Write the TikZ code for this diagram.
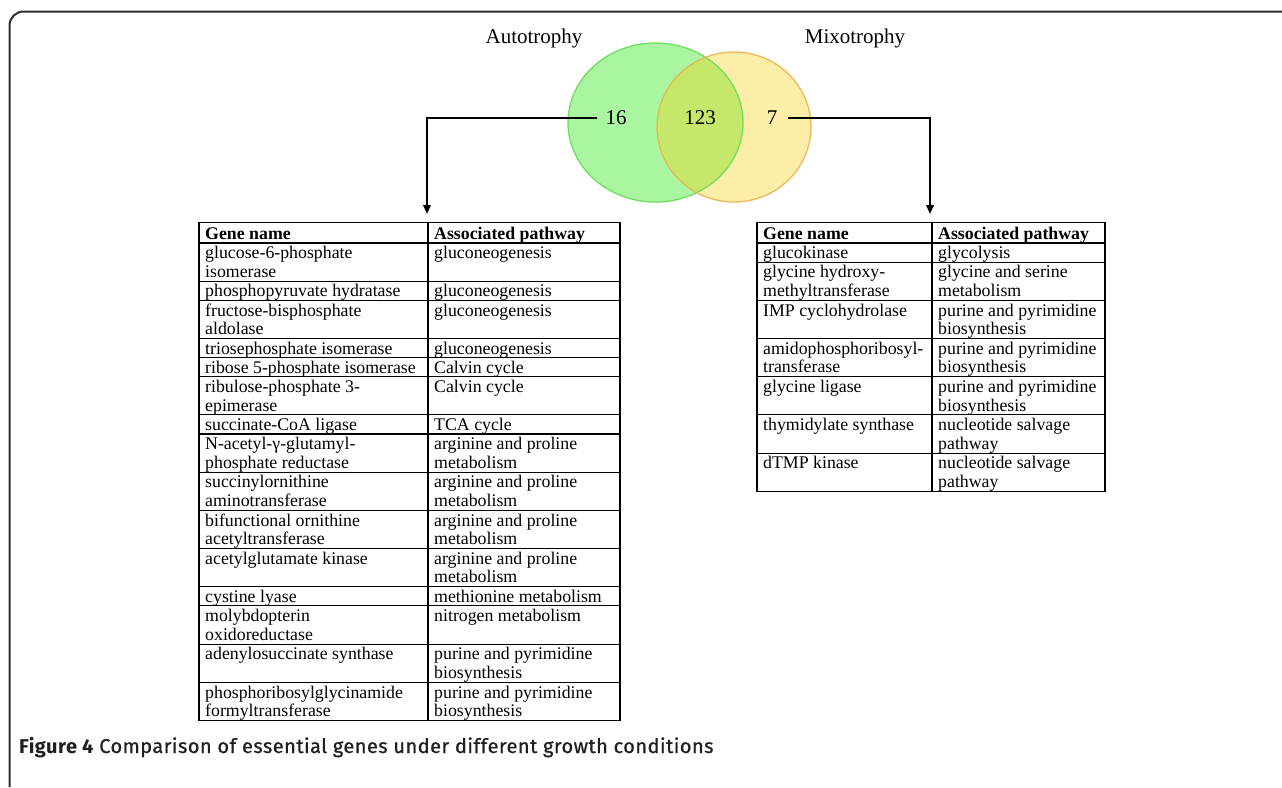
\documentclass[tikz,border=0pt]{standalone}
\usepackage{fontspec}
\setmainfont{Liberation Serif}
\newfontfamily\capfont[FakeBold=0.8,LetterSpace=2.3]{Fira Sans}
\newfontfamily\capfontb[LetterSpace=2.3]{Fira Sans}
\usetikzlibrary{arrows.meta}
\definecolor{gfill}{RGB}{169,245,160}
\definecolor{gline}{RGB}{110,222,95}
\definecolor{ofill}{RGB}{247,209,12}
\definecolor{oline}{RGB}{240,176,74}
\definecolor{framec}{RGB}{45,45,45}
\newcommand{\sr}{\rule{0pt}{13pt}}
\newcommand{\tabfont}{\fontsize{17.8}{18.6}\selectfont}
\begin{document}
\begin{tikzpicture}[x=1pt,y=-1pt,
  cell/.style={anchor=north west,inner sep=0pt,align=left,font=\tabfont},
  hcell/.style={cell,font=\tabfont\bfseries},
  tabline/.style={line width=1.1pt,black},
  arrowline/.style={line width=2pt,black,-{Triangle[length=9pt,width=7.5pt]}},
  vlabel/.style={inner sep=0pt,font=\fontsize{21}{24}\selectfont},
  vnum/.style={inner sep=0pt,font=\fontsize{21}{24}\selectfont}]
\useasboundingbox (0,0) rectangle (1282,787);
% frame
\draw[framec,line width=2pt,rounded corners=14pt] (9.5,787) -- (9.5,11.5) -- (1282,11.5);
% Venn
\fill[gfill] (655.5,122.5) ellipse [x radius=87.5,y radius=79.5];
\fill[ofill,fill opacity=0.36] (734,127) ellipse [x radius=77,y radius=75];
\draw[gline,line width=1.3pt] (655.5,122.5) ellipse [x radius=87.5,y radius=79.5];
\draw[oline,line width=1.3pt,draw opacity=0.9] (734,127) ellipse [x radius=77,y radius=75];
\node[vlabel] (auto) at (534,38) {Autotrophy};
\node[vlabel] (mixo) at (855,38) {Mixotrophy};
\node[vnum] (n16) at (616,118) {16};
\node[vnum] (n123) at (700,118) {123};
\node[vnum] (n7) at (772,118) {7};
\coordinate (ltop) at (427,214);
\coordinate (rtop) at (930,214);
\draw[arrowline] ([xshift=-8pt]n16.west) -| (ltop);
\draw[arrowline] ([xshift=11pt]n7.east) -| (rtop);
% left table
\draw[tabline] (199,222.5) rectangle (620,720.5);
\draw[tabline] (428,222.5) -- (428,720.5);
\foreach \yy in {243,281.2,300.3,338.5,357.6,376.7,414.9,434,472.2,510.4,548.6,586.8,605.9,644.1,682.3}
  \draw[tabline] (199,\yy) -- (620,\yy);
\node[hcell] (Lhg) at (205,226) {\sr Gene name};
\node[hcell] (Lhp) at (434,226) {\sr Associated pathway};
\foreach \i/\yy/\g/\p in {
  1/243/{glucose-6-phosphate\\isomerase}/{gluconeogenesis},
  2/281.2/{phosphopyruvate hydratase}/{gluconeogenesis},
  3/300.3/{fructose-bisphosphate\\aldolase}/{gluconeogenesis},
  4/338.5/{triosephosphate isomerase}/{gluconeogenesis},
  5/357.6/{ribose 5-phosphate isomerase}/{Calvin cycle},
  6/376.7/{ribulose-phosphate 3-\\epimerase}/{Calvin cycle},
  7/414.9/{succinate-CoA ligase}/{TCA cycle},
  8/434/{N-acetyl-γ-glutamyl-\\phosphate reductase}/{arginine and proline\\metabolism},
  9/472.2/{succinylornithine\\aminotransferase}/{arginine and proline\\metabolism},
  10/510.4/{bifunctional ornithine\\acetyltransferase}/{arginine and proline\\metabolism},
  11/548.6/{acetylglutamate kinase}/{arginine and proline\\metabolism},
  12/586.8/{cystine lyase}/{methionine metabolism},
  13/605.9/{molybdopterin\\oxidoreductase}/{nitrogen metabolism},
  14/644.1/{adenylosuccinate synthase}/{purine and pyrimidine\\biosynthesis},
  15/682.3/{phosphoribosylglycinamide\\formyltransferase}/{purine and pyrimidine\\biosynthesis}}{
  \node[cell] (Lg\i) at (205,\yy+2.5) {\sr\g};
  \node[cell] (Lp\i) at (434,\yy+2.5) {\sr\p};
}
% right table
\draw[tabline] (757,222.5) rectangle (1105,491.3);
\draw[tabline] (932,222.5) -- (932,491.3);
\foreach \yy in {243,262.1,300.3,338.5,376.7,414.9,453.1}
  \draw[tabline] (757,\yy) -- (1105,\yy);
\node[hcell] (Rhg) at (763,226) {\sr Gene name};
\node[hcell] (Rhp) at (938,226) {\sr Associated pathway};
\foreach \i/\yy/\g/\p in {
  1/243/{glucokinase}/{glycolysis},
  2/262.1/{glycine hydroxy-\\methyltransferase}/{glycine and serine\\metabolism},
  3/300.3/{IMP cyclohydrolase}/{purine and pyrimidine\\biosynthesis},
  4/338.5/{amidophosphoribosyl-\\transferase}/{purine and pyrimidine\\biosynthesis},
  5/376.7/{glycine ligase}/{purine and pyrimidine\\biosynthesis},
  6/414.9/{thymidylate synthase}/{nucleotide salvage\\pathway},
  7/453.1/{dTMP kinase}/{nucleotide salvage\\pathway}}{
  \node[cell] (Rg\i) at (763,\yy+2.5) {\sr\g};
  \node[cell] (Rp\i) at (938,\yy+2.5) {\sr\p};
}
% caption
\node[anchor=base west,inner sep=0pt,font=\capfont\fontsize{20}{23}\selectfont,text=black!88] (cap) at (19,753)
  {{\capfontb\bfseries Figure 4} Comparison of essential genes under different growth conditions};
\end{tikzpicture}
\end{document}
